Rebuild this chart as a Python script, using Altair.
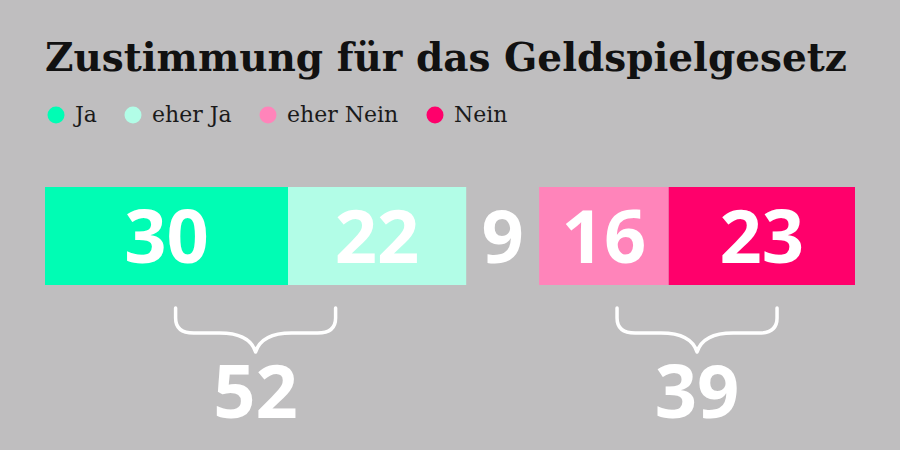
import altair as alt
import pandas as pd

# ---- data ----
title_text = "Zustimmung für das Geldspielgesetz"
categories = ["Ja", "eher Ja", "weiss nicht", "eher Nein", "Nein"]
values = [30, 22, 9, 16, 23]
legend_labels = ["Ja", "eher Ja", "eher Nein", "Nein"]
colors = ["#00fdb4", "#b2fde7", "rgba(0,0,0,0)", "#ff84ba", "#ff006b"]
group_names = ["Ja gesamt", "Nein gesamt"]
group_members = [["Ja", "eher Ja"], ["eher Nein", "Nein"]]

# ---- derived tables ----
df = pd.DataFrame({"cat": categories, "val": values})
df["end"] = df["val"].cumsum()
df["start"] = df["end"] - df["val"]
df["mid"] = (df["start"] + df["end"]) / 2

rows = []
for name, members in zip(group_names, group_members):
    sub = df[df["cat"].isin(members)]
    rows.append({
        "group": name,
        "total": int(sub["val"].sum()),
        "center": (sub["start"].min() + sub["end"].max()) / 2,
    })
groups = pd.DataFrame(rows)

BG = "#bfbebf"
NUM_FONT = "Open Sans"
xscale = alt.Scale(domain=[0, 100], range=[45, 855])

bars = alt.Chart(df).mark_bar().encode(
    x=alt.X("start:Q", scale=xscale, axis=None),
    x2="end:Q",
    y=alt.value(187),
    y2=alt.value(285),
    color=alt.Color(
        "cat:N",
        scale=alt.Scale(domain=categories, range=colors),
        legend=alt.Legend(
            values=legend_labels,
            title=None,
            orient="none",
            legendX=45,
            legendY=104,
            direction="horizontal",
            symbolType="circle",
            symbolSize=289,
            symbolStrokeWidth=0,
            labelFont="DejaVu Serif",
            labelFontSize=22,
            labelColor="#1a1a1a",
            labelOffset=8,
            columnPadding=25,
            padding=0,
        ),
    ),
)

bar_labels = alt.Chart(df).mark_text(
    font=NUM_FONT, fontWeight="bold", fontSize=74, color="white",
    baseline="alphabetic", align="center",
).encode(
    x=alt.X("mid:Q", scale=xscale, axis=None),
    y=alt.value(263),
    text=alt.Text("val:Q"),
)

brace_path = ("M -1 -0.275 L -1 -0.15 Q -1 0.0375 -0.775 0.0375 L -0.45 0.0375 "
              "Q -0.075 0.0375 0 0.275 Q 0.075 0.0375 0.45 0.0375 L 0.775 0.0375 "
              "Q 1 0.0375 1 -0.15 L 1 -0.275")

braces = alt.Chart(groups).mark_point(
    shape=brace_path, size=25600, filled=False, stroke="white",
    strokeWidth=3.5, opacity=1, strokeCap="round", strokeJoin="round",
).encode(
    x=alt.X("center:Q", scale=xscale, axis=None),
    y=alt.value(330),
)

totals = alt.Chart(groups).mark_text(
    font=NUM_FONT, fontWeight="bold", fontSize=74, color="white",
    baseline="alphabetic", align="center",
).encode(
    x=alt.X("center:Q", scale=xscale, axis=None),
    y=alt.value(418),
    text=alt.Text("total:Q"),
)

title = alt.Chart(pd.DataFrame({"t": [title_text]})).mark_text(
    font="DejaVu Serif", fontWeight="bold", fontSize=39, color="#111111",
    align="left", baseline="alphabetic",
).encode(
    x=alt.value(45),
    y=alt.value(71),
    text="t:N",
)

chart = alt.layer(bars, bar_labels, braces, totals, title).properties(
    width=900,
    height=450,
    background=BG,
    padding=0,
    autosize=alt.AutoSizeParams(type="none"),
).configure_view(stroke=None)

chart.save("out.html", embed_options={"renderer": "svg", "actions": False})
